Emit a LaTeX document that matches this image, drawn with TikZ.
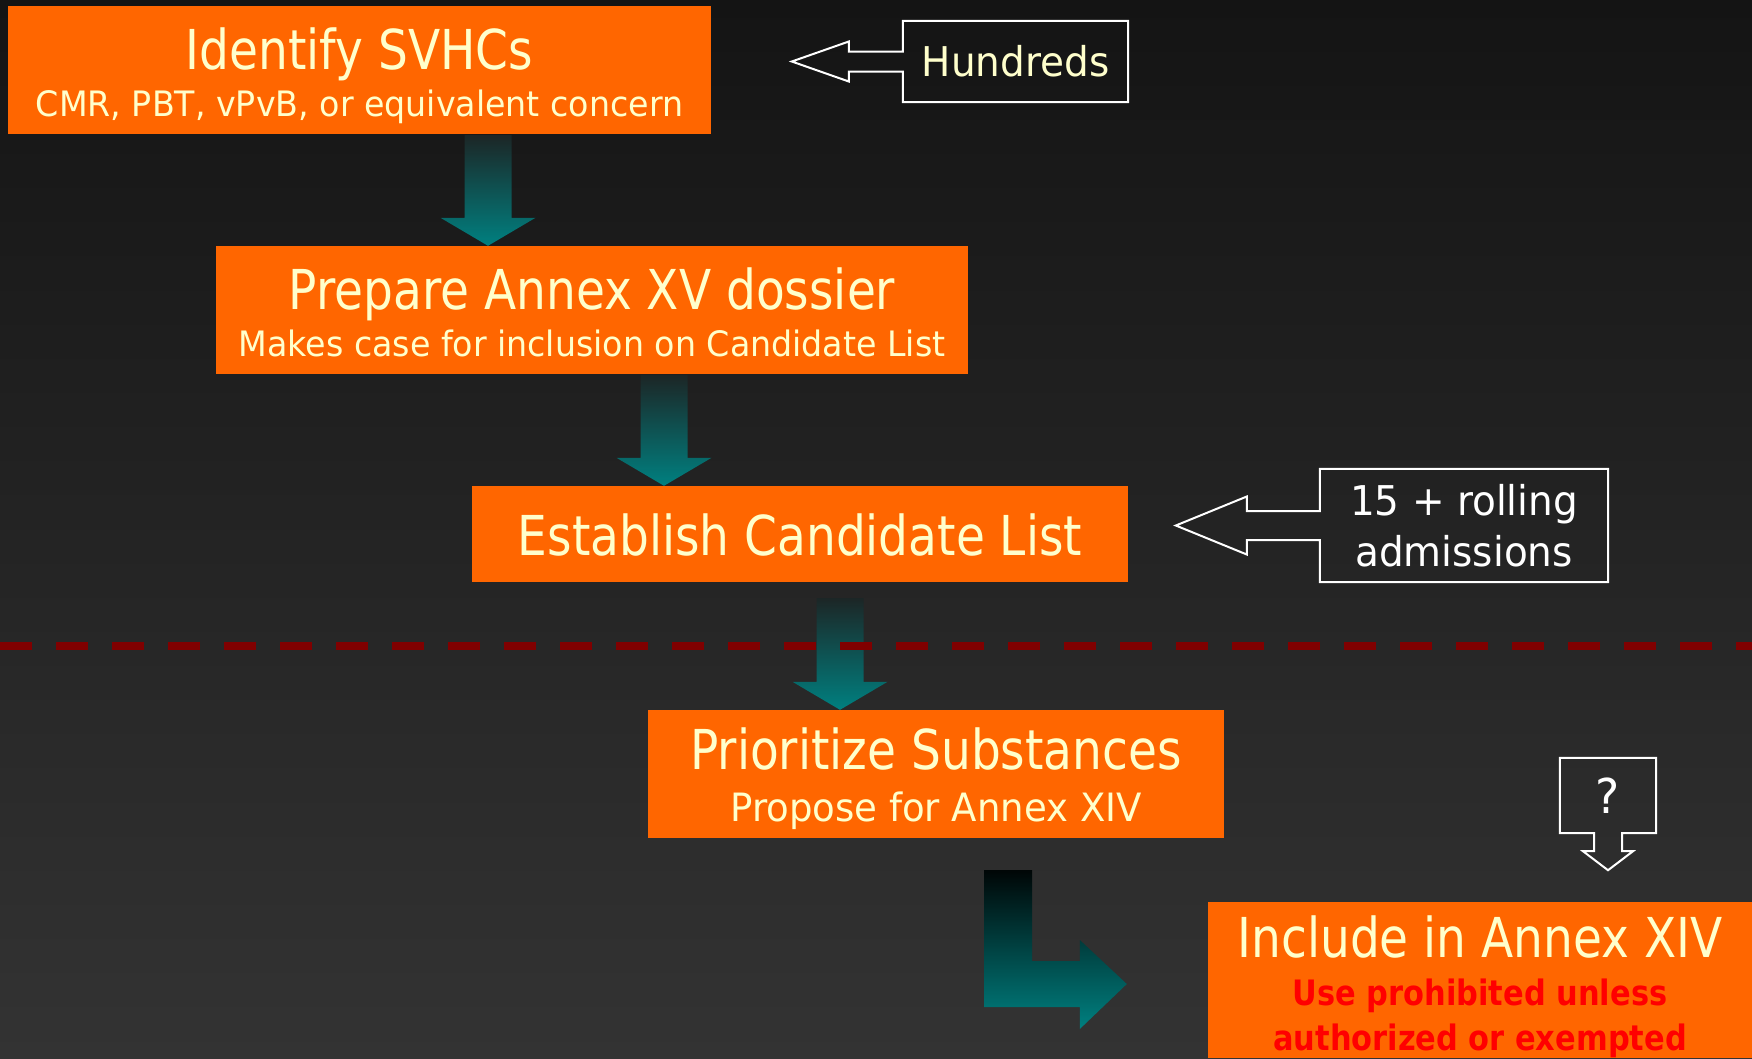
\documentclass[tikz,border=0pt]{standalone}
\usepackage{fontspec}
\usetikzlibrary{calc}
\newfontfamily\ttlfont[FakeStretch=0.855]{DejaVu Sans}
\newfontfamily\subfont[FakeStretch=0.95]{DejaVu Sans}
\newfontfamily\redfont[FakeStretch=0.87]{DejaVu Sans}
\definecolor{bgtop}{RGB}{20,20,20}
\definecolor{bgbot}{RGB}{51,51,51}
\definecolor{boxor}{RGB}{255,102,0}
\definecolor{txtyel}{RGB}{255,255,204}
\definecolor{tealA}{RGB}{0,128,128}
\definecolor{tealmid}{RGB}{14,100,100}
\definecolor{tealtop}{RGB}{28,38,38}
\definecolor{tealblack}{RGB}{0,6,6}
\definecolor{dashred}{RGB}{128,0,0}
\definecolor{redtxt}{RGB}{255,0,0}
\tikzset{
  orangebox/.style={fill=boxor, draw=none, inner sep=0pt},
  ttl/.style={anchor=base, inner sep=0pt, text=txtyel, font=\ttlfont\fontsize{55}{60}\selectfont},
  subt/.style={anchor=base, inner sep=0pt, text=txtyel, font=\subfont\fontsize{35}{40}\selectfont},
  redt/.style={anchor=base, inner sep=0pt, text=redtxt, font=\redfont\bfseries\fontsize{35}{40}\selectfont},
  callout/.style={inner sep=0pt, align=center, font=\subfont\fontsize{41}{51}\selectfont},
  calloutline/.style={draw=white, line width=2pt, line join=miter},
  tealarr/.style={top color=tealtop, middle color=tealmid, bottom color=tealA},
  bentarr/.style={top color=tealblack, bottom color=tealA},
  divider/.style={draw=dashred, line width=8pt, dash pattern=on 32pt off 24pt}
}
\begin{document}
\begin{tikzpicture}[x=1pt,y=-1pt]
\useasboundingbox (0,0) rectangle (1752,1058);
\shade[top color=bgtop, bottom color=bgbot] (0,0) rectangle (1752,1058);

% boxes
\node[orangebox, minimum width=703, minimum height=128] (b1) at (359.5,70) {};
\node[orangebox, minimum width=752, minimum height=128] (b2) at (592,310) {};
\node[orangebox, minimum width=656, minimum height=96] (b3) at (800,534) {};
\node[orangebox, minimum width=576, minimum height=128] (b4) at (936,774) {};
\node[orangebox, minimum width=544, minimum height=156] (b5) at (1480,980) {};

% teal arrows
\shade[tealarr] let \p1=(b1.south), \p2=(b2.north) in
  (464.5,\y1-1pt) -- (511.5,\y1-1pt) -- (511.5,\y2+28pt) -- (535.5,\y2+28pt) -- (488,\y2)
  -- (440.5,\y2+28pt) -- (464.5,\y2+28pt) -- cycle;
\shade[tealarr] let \p1=(b2.south), \p2=(b3.north) in
  (640.5,\y1-1pt) -- (687.5,\y1-1pt) -- (687.5,\y2+28pt) -- (711.5,\y2+28pt) -- (664,\y2)
  -- (616.5,\y2+28pt) -- (640.5,\y2+28pt) -- cycle;
\shade[tealarr] let \p1=(b3.south), \p2=(b4.north) in
  (816.5,\y1-16pt) -- (863.5,\y1-16pt) -- (863.5,\y2+28pt) -- (887.5,\y2+28pt) -- (840,\y2)
  -- (792.5,\y2+28pt) -- (816.5,\y2+28pt) -- cycle;
\shade[bentarr] let \p1=(b4.south), \p2=(b5.west) in
  (984,\y1-32pt) -- (1032,\y1-32pt) -- (1032,961) -- (\x2-128pt,961) -- (\x2-128pt,940)
  -- (\x2-81pt,984) -- (\x2-128pt,1029) -- (\x2-128pt,1007) -- (984,1007) -- cycle;

% divider
\coordinate (dl) at (0,646);
\coordinate (dr) at (1752,646);
\draw[divider] (dl) -- (dr);

% box texts
\node[ttl] (t1) at (359.5,69) {Identify SVHCs};
\node[subt] (s1) at (359.5,116) {CMR, PBT, vPvB, or equivalent concern};
\node[ttl] (t2) at (592,309) {Prepare Annex XV dossier};
\node[subt] (s2) at (592,356) {Makes case for inclusion on Candidate List};
\node[ttl] (t3) at (800,555) {Establish Candidate List};
\node[ttl] (t4) at (936,769) {Prioritize Substances};
\node[subt, font=\subfont\fontsize{39}{44}\selectfont] (s4) at (936,821) {Propose for Annex XIV};
\node[ttl] (t5) at (1480,957) {Include in Annex XIV};
\node[redt] (r1) at (1480,1005) {Use prohibited unless};
\node[redt] (r2) at (1480,1050) {authorized or exempted};

% callouts
\node[callout, text=txtyel, minimum width=225, minimum height=81] (h) at (1015.5,61.5) {Hundreds};
\draw[calloutline] let \p1=(h.north west), \p2=(h.south east), \p3=(h.west) in
  (\x1,\y1) -- (\x2,\y1) -- (\x2,\y2) -- (\x1,\y2) -- (\x1,\y3-10pt) -- (\x1-54pt,\y3-10pt)
  -- (\x1-54pt,\y3-20pt) -- (\x1-111pt,\y3) -- (\x1-54pt,\y3+20pt) -- (\x1-54pt,\y3+10pt)
  -- (\x1,\y3+10pt) -- cycle;

\node[callout, text=white, minimum width=288, minimum height=113] (r) at (1464,525.5) {15 + rolling\\admissions};
\draw[calloutline] let \p1=(r.north west), \p2=(r.south east), \p3=(r.west) in
  (\x1,\y1) -- (\x2,\y1) -- (\x2,\y2) -- (\x1,\y2) -- (\x1,\y3-14.5pt) -- (\x1-73pt,\y3-14.5pt)
  -- (\x1-73pt,\y3-29pt) -- (\x1-144pt,\y3) -- (\x1-73pt,\y3+29pt) -- (\x1-73pt,\y3+14.5pt)
  -- (\x1,\y3+14.5pt) -- cycle;

\node[callout, text=white, font=\subfont\fontsize{48}{52}\selectfont, minimum width=96, minimum height=75] (q) at (1608,795.5) {?};
\draw[calloutline] let \p1=(q.north west), \p2=(q.south east), \p3=(q.south) in
  (\x1,\y1) -- (\x2,\y1) -- (\x2,\y2) -- (\x3+14pt,\y2) -- (\x3+14pt,\y2-18pt)
  -- (\x3+25pt,\y2-18pt) -- (\x3,\y2-37pt) -- (\x3-25pt,\y2-18pt) -- (\x3-14pt,\y2-18pt)
  -- (\x3-14pt,\y2) -- (\x1,\y2) -- cycle;
\end{tikzpicture}
\end{document}
